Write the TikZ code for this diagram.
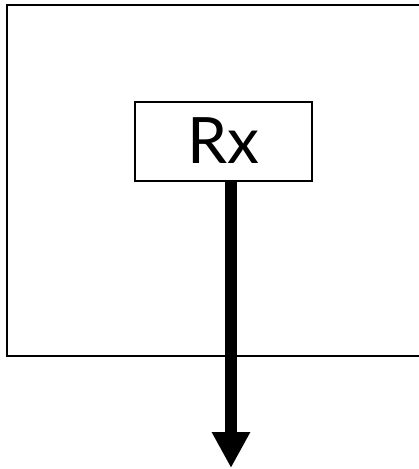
\documentclass[tikz,border=0pt]{standalone}
\usepackage{fontspec}
\setmainfont{Lato}
\usepackage{tikz}
\usetikzlibrary{arrows.meta, positioning}

\begin{document}
\begin{tikzpicture}[
  x=1pt, y=-1pt,
  frame/.style = {draw=black, line width=2pt},
  rxbox/.style = {draw=black, line width=2pt, minimum width=177pt,
                  minimum height=79pt, inner sep=0pt,
                  font=\fontsize{64}{76}\selectfont},
  outarr/.style = {-{Triangle[length=36pt,width=36pt]}, line width=12pt},
]
\useasboundingbox (0,0) rectangle (419,469);

%% ── outer block ────────────────────────────────────────────────
\draw[frame] (7,5) rectangle (425,356);

%% ── receiver ───────────────────────────────────────────────────
\node[rxbox] (rx) at (223,141) {Rx};
\coordinate (out) at (231,468);

\draw[outarr] (rx.south -| out) -- (out);

\end{tikzpicture}
\end{document}
